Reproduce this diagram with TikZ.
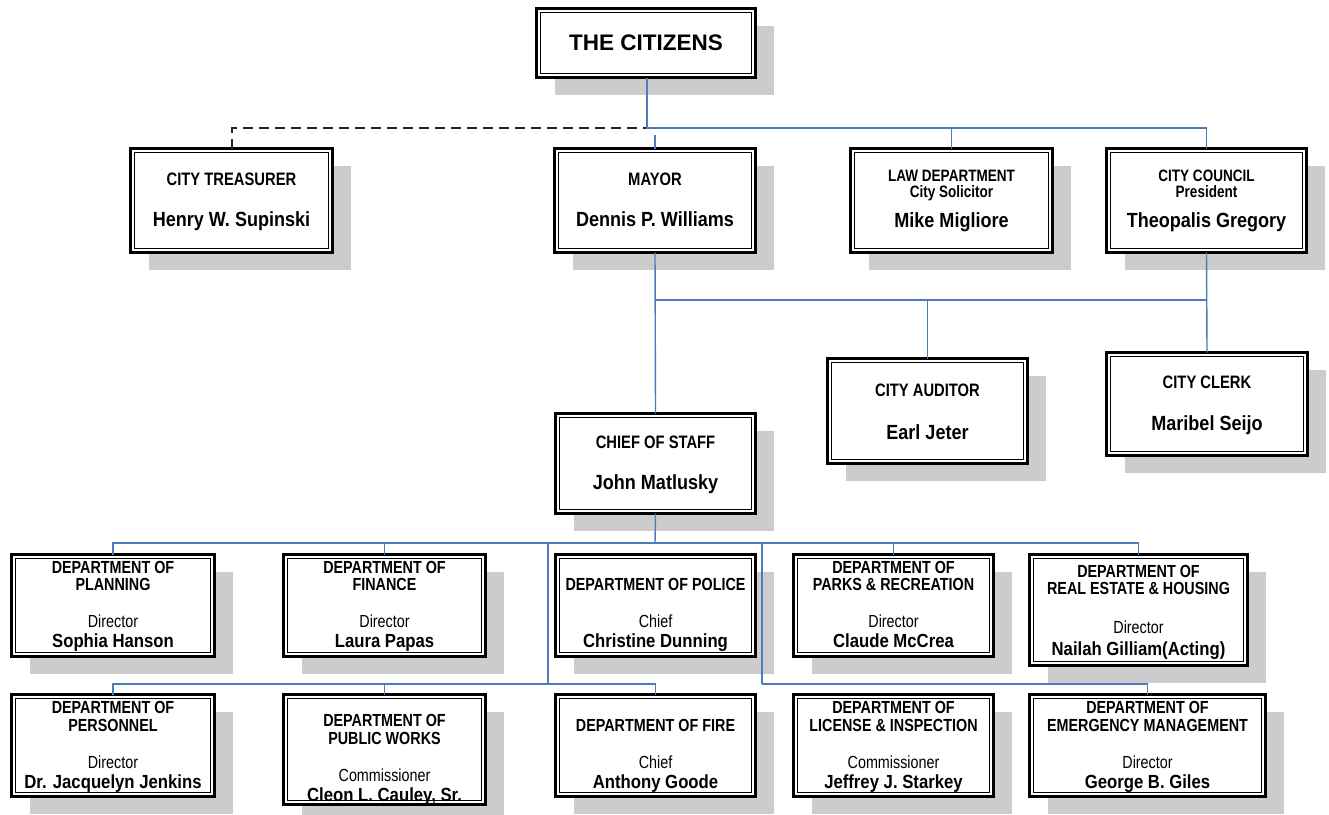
\documentclass[tikz,border=0pt]{standalone}
\usepackage{fontspec}
\setmainfont{Liberation Sans}
\newfontfamily\nfont[FakeStretch=0.82]{Liberation Sans}
\newfontfamily\mfont[FakeStretch=0.88]{Liberation Sans}
\usetikzlibrary{shadows}
\definecolor{connblue}{HTML}{4A7EBB}
\definecolor{shade}{HTML}{CCCCCC}
\tikzset{
  obox/.style={draw=black, line width=2.4pt, fill=white, inner sep=0pt, outer sep=0pt,
    drop shadow={shadow xshift=18pt, shadow yshift=-17pt, fill=shade, opacity=1},
    path picture={\draw[line width=1pt] ([shift={(3.8pt,-3.8pt)}]path picture bounding box.north west) rectangle ([shift={(-3.8pt,3.8pt)}]path picture bounding box.south east);}},
  bx/.style 2 args={obox, minimum width=#1pt, minimum height=#2pt},
  tx/.style={anchor=base, inner sep=0pt, text=black},
  ttl/.style={tx, font=\nfont\bfseries\fontsize{18}{20}\selectfont},
  sttl/.style={tx, font=\nfont\bfseries\fontsize{16.5}{18}\selectfont},
  dttl/.style={tx, font=\nfont\bfseries\fontsize{17.5}{19}\selectfont},
  role/.style={tx, font=\nfont\fontsize{17.5}{19}\selectfont},
  bignm/.style={tx, font=\mfont\bfseries\fontsize{20.5}{22}\selectfont},
  nm/.style={tx, font=\mfont\bfseries\fontsize{19}{21}\selectfont},
  citx/.style={tx, font=\bfseries\fontsize{22.5}{24}\selectfont},
  cn/.style={draw=connblue, line width=1.4pt},
  dsh/.style={draw=black!85, line width=2pt, dash pattern=on 10pt off 6pt}
}
\begin{document}
\begin{tikzpicture}[x=1pt,y=-1pt]
\useasboundingbox (0,0) rectangle (1329,814);

% ---------- boxes ----------
\node[bx={219}{69}] (cit) at (646,43) {};
\node[bx={202}{104}] (treas) at (231.5,200.5) {};
\node[bx={201}{104}] (mayor) at (655,200.5) {};
\node[bx={202}{104}] (law) at (951.5,200.5) {};
\node[bx={200}{104}] (council) at (1206.5,200.5) {};
\node[bx={200}{105}] (auditor) at (927.5,411) {};
\node[bx={201}{103}] (clerk) at (1207,404) {};
\node[bx={200}{100}] (chief) at (655.5,463.5) {};

\node[bx={203}{102}] (planning) at (113,605.5) {};
\node[bx={202}{102}] (finance) at (384.5,605.5) {};
\node[bx={200}{102}] (police) at (655.5,605.5) {};
\node[bx={200}{102}] (parks) at (893.5,605.5) {};
\node[bx={218}{111}] (realestate) at (1138.5,610) {};

\node[bx={203}{102}] (personnel) at (113,745.5) {};
\node[bx={202}{110}] (publicworks) at (384.5,749.5) {};
\node[bx={200}{102}] (fire) at (655.5,745.5) {};
\node[bx={200}{102}] (license) at (893.5,745.5) {};
\node[bx={236}{102}] (emergency) at (1147.5,745.5) {};

% ---------- texts ----------
\node[citx] (cit-a) at (646,50) {THE CITIZENS};

\node[ttl] (treas-a) at (231.5,185) {CITY TREASURER};
\node[bignm] (treas-b) at (231.5,226) {Henry W. Supinski};

\node[ttl] (mayor-a) at (655,185) {MAYOR};
\node[bignm] (mayor-b) at (655,226) {Dennis P. Williams};

\node[sttl] (law-a) at (951.5,181) {LAW DEPARTMENT};
\node[sttl] (law-b) at (951.5,197) {City Solicitor};
\node[bignm] (law-c) at (951.5,227) {Mike Migliore};

\node[sttl] (council-a) at (1206.5,181) {CITY COUNCIL};
\node[sttl] (council-b) at (1206.5,197) {President};
\node[bignm] (council-c) at (1206.5,227) {Theopalis Gregory};

\node[ttl] (auditor-a) at (927.5,396) {CITY AUDITOR};
\node[bignm] (auditor-b) at (927.5,439) {Earl Jeter};

\node[ttl] (clerk-a) at (1207,388) {CITY CLERK};
\node[bignm] (clerk-b) at (1207,430) {Maribel Seijo};

\node[ttl] (chief-a) at (655.5,448) {CHIEF OF STAFF};
\node[bignm] (chief-b) at (655.5,489) {John Matlusky};

\node[dttl] (planning-a) at (113,573) {DEPARTMENT OF};
\node[dttl] (planning-b) at (113,590) {PLANNING};
\node[role] (planning-c) at (113,627) {Director};
\node[nm] (planning-d) at (113,647) {Sophia Hanson};

\node[dttl] (finance-a) at (384.5,573) {DEPARTMENT OF};
\node[dttl] (finance-b) at (384.5,590) {FINANCE};
\node[role] (finance-c) at (384.5,627) {Director};
\node[nm] (finance-d) at (384.5,647) {Laura Papas};

\node[dttl] (police-a) at (655.5,590) {DEPARTMENT OF POLICE};
\node[role] (police-c) at (655.5,627) {Chief};
\node[nm] (police-d) at (655.5,647) {Christine Dunning};

\node[dttl] (parks-a) at (893.5,573) {DEPARTMENT OF};
\node[dttl] (parks-b) at (893.5,590) {PARKS \& RECREATION};
\node[role] (parks-c) at (893.5,627) {Director};
\node[nm] (parks-d) at (893.5,647) {Claude McCrea};

\node[dttl] (realestate-a) at (1138.5,577) {DEPARTMENT OF};
\node[dttl] (realestate-b) at (1138.5,594) {REAL ESTATE \& HOUSING};
\node[role] (realestate-c) at (1138.5,633) {Director};
\node[nm] (realestate-d) at (1138.5,655) {Nailah Gilliam(Acting)};

\node[dttl] (personnel-a) at (113,713) {DEPARTMENT OF};
\node[dttl] (personnel-b) at (113,731) {PERSONNEL};
\node[role] (personnel-c) at (113,768) {Director};
\node[nm] (personnel-d) at (113,788) {Dr. Jacquelyn Jenkins};

\node[dttl] (publicworks-a) at (384.5,726) {DEPARTMENT OF};
\node[dttl] (publicworks-b) at (384.5,744) {PUBLIC WORKS};
\node[role] (publicworks-c) at (384.5,781) {Commissioner};
\node[nm] (publicworks-d) at (384.5,801) {Cleon L. Cauley, Sr.};

\node[dttl] (fire-a) at (655.5,731) {DEPARTMENT OF FIRE};
\node[role] (fire-c) at (655.5,768) {Chief};
\node[nm] (fire-d) at (655.5,788) {Anthony Goode};

\node[dttl] (license-a) at (893.5,713) {DEPARTMENT OF};
\node[dttl] (license-b) at (893.5,731) {LICENSE \& INSPECTION};
\node[role] (license-c) at (893.5,768) {Commissioner};
\node[nm] (license-d) at (893.5,788) {Jeffrey J. Starkey};

\node[dttl] (emergency-a) at (1147.5,713) {DEPARTMENT OF};
\node[dttl] (emergency-b) at (1147.5,731) {EMERGENCY MANAGEMENT};
\node[role] (emergency-c) at (1147.5,768) {Director};
\node[nm] (emergency-d) at (1147.5,788) {George B. Giles};

% ---------- connectors ----------
\coordinate (bus0) at (647,128);
\coordinate (mtop) at (655,135);
\coordinate (bus1) at (655,300);
\coordinate (bus2) at (655,543);
\coordinate (vl) at (548,543);
\coordinate (vr) at (762,543);
\coordinate (bus3) at (548,684);
\coordinate (bus4) at (762,684);

\draw[dsh] (treas.north) -- (treas.north |- bus0) -- (bus0);
\draw[cn] (cit.south -| bus0) -- (bus0) -- (council.north |- bus0) -- (council.north);
\draw[cn] (law.north |- bus0) -- (law.north);
\draw[cn] (mtop) -- (mayor.north);

\draw[cn] (mayor.south) -- (chief.north);
\draw[cn] (bus1) -- (council.south |- bus1);
\draw[cn] (council.south) -- (clerk.north);
\draw[cn] (auditor.north |- bus1) -- (auditor.north);

\draw[cn] (chief.south) -- (bus2);
\draw[cn] (planning.north) -- (planning.north |- bus2) -- (realestate.north |- bus2) -- (realestate.north);
\draw[cn] (finance.north |- bus2) -- (finance.north);
\draw[cn] (parks.north |- bus2) -- (parks.north);
\draw[cn] (vl) -- (bus3);
\draw[cn] (vr) -- (bus4);
\draw[cn] (personnel.north) -- (personnel.north |- bus3) -- (fire.north |- bus3) -- (fire.north);
\draw[cn] (publicworks.north |- bus3) -- (publicworks.north);
\draw[cn] (bus4) -- (emergency.north |- bus4) -- (emergency.north);
\end{tikzpicture}
\end{document}
